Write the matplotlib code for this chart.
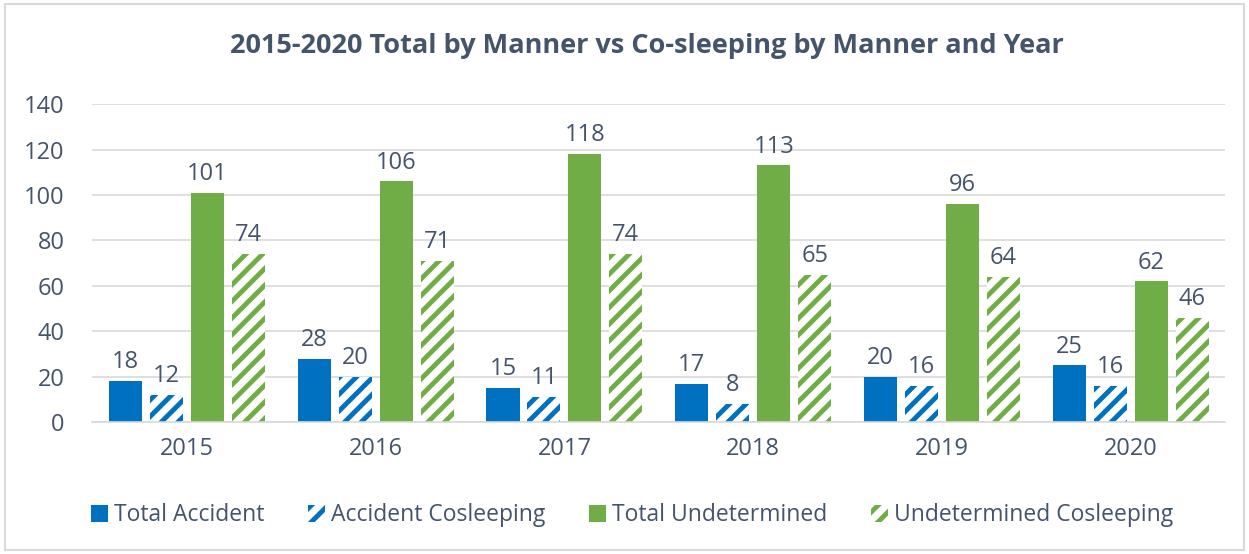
import matplotlib.pyplot as plt
import numpy as np

years = ['2015', '2016', '2017', '2018', '2019', '2020']
total_accident = [18, 28, 15, 17, 20, 25]
accident_cosleeping = [12, 20, 11, 8, 16, 16]
total_undetermined = [101, 106, 118, 113, 96, 62]
undetermined_cosleeping = [74, 71, 74, 65, 64, 46]

blue = '#0070C0'
green = '#70AD47'
txt = '#44546A'

plt.rcParams['font.family'] = ['Open Sans', 'DejaVu Sans']
plt.rcParams['hatch.linewidth'] = 3.5

fig = plt.figure(figsize=(12.49, 5.54), dpi=100)
ax = fig.add_axes([0.074, 0.238, 0.907, 0.574])

x = np.arange(len(years))
w = 0.175
step = 0.217
series = [
    (total_accident, 'Total Accident', blue, False),
    (accident_cosleeping, 'Accident Cosleeping', blue, True),
    (total_undetermined, 'Total Undetermined', green, False),
    (undetermined_cosleeping, 'Undetermined Cosleeping', green, True),
]
for i, (vals, label, col, hatched) in enumerate(series):
    pos = x + (i - 1.5) * step
    if hatched:
        bars = ax.bar(pos, vals, w, facecolor='white', edgecolor=col,
                      hatch='//', linewidth=0, label=label)
    else:
        bars = ax.bar(pos, vals, w, color=col, label=label)
    # value labels above each bar
    for b, v in zip(bars, vals):
        ax.text(b.get_x() + b.get_width() / 2, v + 3, str(v), ha='center',
                va='bottom', fontsize=17, color=txt)

ax.set_xlim(-0.5, len(years) - 0.5)
ax.set_ylim(0, 140)
ax.set_yticks(range(0, 141, 20))
ax.set_xticks(x)
ax.set_xticklabels(years)
ax.tick_params(axis='both', length=0, labelsize=17, labelcolor=txt)
ax.tick_params(axis='x', pad=11)
ax.tick_params(axis='y', pad=20)
ax.grid(axis='y', color='#D9D9D9', linewidth=1.2)
ax.set_axisbelow(True)
for s in ['top', 'right', 'left']:
    ax.spines[s].set_visible(False)
ax.spines['bottom'].set_color('#D9D9D9')
ax.spines['bottom'].set_linewidth(1.2)

fig.suptitle('2015-2020 Total by Manner vs Co-sleeping by Manner and Year',
             x=0.518, y=0.94, fontsize=19.5, fontweight='bold', color=txt)

leg = fig.legend(loc='center', bbox_to_anchor=(0.506, 0.07), ncol=4,
                 frameon=False, fontsize=16.5, handlelength=0.75, handleheight=0.75,
                 handletextpad=0.25, columnspacing=1.9)
for t in leg.get_texts():
    t.set_color(txt)

fig.patches.append(plt.Rectangle((0.004, 0.008), 0.992, 0.984, transform=fig.transFigure,
                                 fill=False, edgecolor='#D9D9D9', linewidth=1.5))

fig.savefig('out.png', dpi=100)
